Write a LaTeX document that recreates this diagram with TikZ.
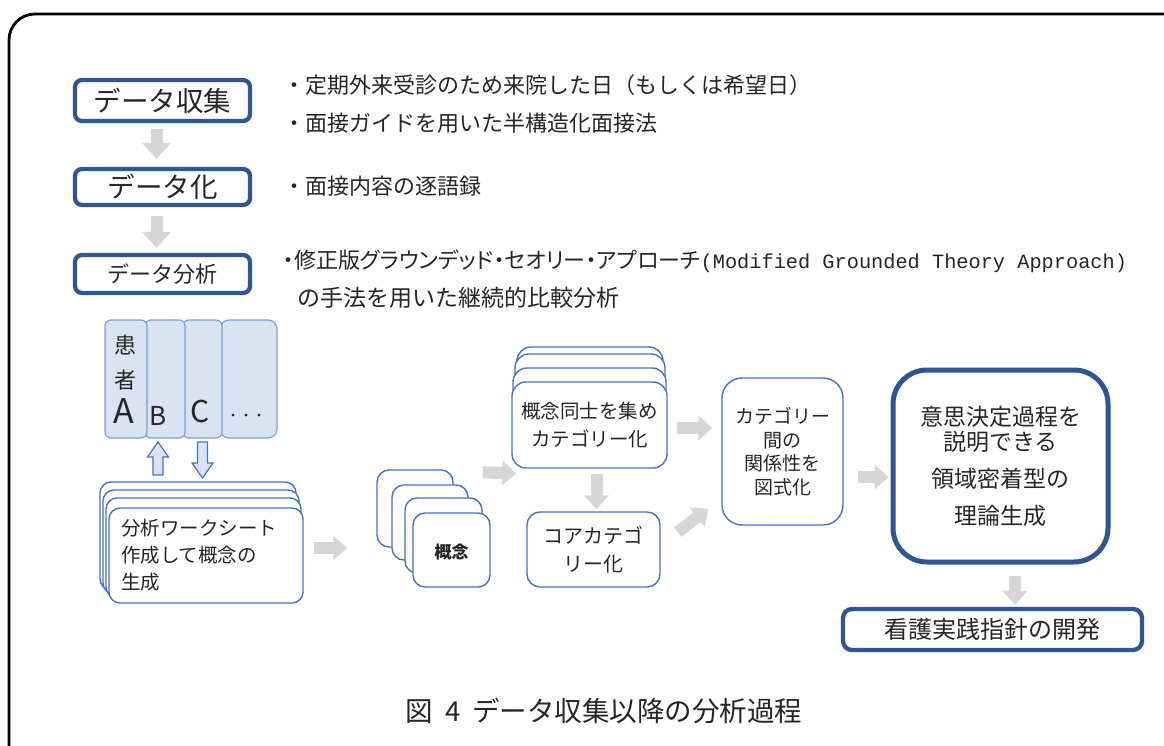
\documentclass[tikz,border=0pt]{standalone}
\usepackage{fontspec}
\setmainfont{Noto Sans CJK JP}
\newfontfamily\monof{Liberation Mono}
\usetikzlibrary{arrows.meta,calc}
\definecolor{dblue}{HTML}{2F5597}
\definecolor{mblue}{HTML}{4472C4}
\definecolor{cardfill}{HTML}{DAE3F3}
\definecolor{cardline}{HTML}{7F9FD5}
\definecolor{garrowc}{HTML}{D6D6D6}
\definecolor{txt}{HTML}{262626}
\newcommand\setfs[2]{\fontsize{#1pt}{#2pt}\selectfont}
\newcommand\boxnode[7]{%
  \pgfmathsetmacro\cx{(#3+#5)/2}\pgfmathsetmacro\cy{(#4+#6)/2}%
  \pgfmathsetmacro\ww{#5-#3}\pgfmathsetmacro\hh{#6-#4}%
  \node[#2, minimum width=\ww pt, minimum height=\hh pt, inner sep=0pt] (#1) at (\cx,\cy) {#7};}
\tikzset{
  every node/.style={text=txt},
  thickbox/.style={draw=dblue, line width=4.3pt, rounded corners=7pt, fill=white},
  thinbox/.style={draw=mblue, line width=1.4pt, fill=white},
  card/.style={draw=cardline, line width=1.2pt, fill=cardfill, rounded corners=6pt},
  garrow/.style={draw=garrowc, line width=12pt, -{Triangle[width=24pt,length=14pt]}},
  bigarrow/.style={draw=garrowc, line width=12pt, -{Triangle[width=28pt,length=16pt]}},
  hollow/.style={draw=mblue, line width=1.2pt, fill=cardfill, line join=miter},
  rtext/.style={anchor=west, inner sep=0pt}
}
\begin{document}
\begin{tikzpicture}[x=1pt,y=-1pt]
\useasboundingbox (0,0) rectangle (1164,746);
\clip (0,0) rectangle (1164,746);
\fill[white] (0,0) rectangle (1164,746);
\draw[line width=2.8pt, rounded corners=26pt] (9,14) rectangle (1192,775);

% left column
\boxnode{collect}{thickbox, font={\setfs{27.5}{30}}}{75}{80}{250}{121}{データ収集}
\boxnode{datafy}{thickbox, font={\setfs{27.5}{30}}}{75}{169}{250}{205}{データ化}
\boxnode{analysis}{thickbox, font={\setfs{22}{26}}}{75}{255}{250}{293}{データ分析}
\draw[bigarrow] ($(collect.south)+(-6,6)$) -- ($(datafy.north)+(-6,-8)$);
\draw[bigarrow] ($(datafy.south)+(-6,9)$) -- ($(analysis.north)+(-6,-5)$);

% right texts
\node[rtext, font={\setfs{22}{26}}] (t1) at (283,85) {・定期外来受診のため来院した日（もしくは希望日）};
\node[rtext, font={\setfs{22}{26}}] (t2) at (283,123) {・面接ガイドを用いた半構造化面接法};
\node[rtext, font={\setfs{22}{26}}] (t3) at (283,186) {・面接内容の逐語録};
\node[rtext, font={\setfs{22}{26}}] (t4) at (283,261) {\addfontfeatures{RawFeature=+palt}・修正版グラウンデッド・セオリー・アプローチ{\monof\setfs{20.3}{24}(Modified Grounded Theory Approach)}};
\node[rtext, font={\setfs{23}{26}}] (t5) at (297,298) {の手法を用いた継続的比較分析};

% patient cards
\boxnode{cardD}{card, rounded corners=9pt}{220}{320}{277}{438}{}
\boxnode{cardC}{card}{183}{320}{222}{438}{}
\boxnode{cardB}{card}{145}{320}{185}{438}{}
\boxnode{cardA}{card}{105}{320}{147}{438}{}
\node[font={\setfs{22}{24}}] (pk1) at (125,345) {患};
\node[font={\setfs{22}{24}}] (pk2) at (125,380) {者};
\node[font={\setfs{34}{36}}] (pA) at (124,411) {A};
\node[font={\setfs{26}{28}}] (pB) at (158,416) {B};
\node[font={\setfs{30}{32}}] (pC) at (200,412) {C};
\node[font={\setfs{13}{14}}] (pD) at (246,417) {・・・};

% hollow arrows
\draw[hollow] (158,442) -- (168.5,457) -- (163,457) -- (163,475) -- (153,475) -- (153,457) -- (147.5,457) -- cycle;
\draw[hollow] (197.5,442) -- (207.5,442) -- (207.5,463) -- (213,463) -- (202.5,478) -- (192,463) -- (197.5,463) -- cycle;

% worksheet stack
\boxnode{ws1}{thinbox, rounded corners=11pt}{100}{482}{296}{590}{}
\boxnode{ws2}{thinbox, rounded corners=11pt}{103}{490}{299}{594}{}
\boxnode{ws3}{thinbox, rounded corners=11pt}{106}{498}{301}{598}{}
\boxnode{ws4}{thinbox, rounded corners=11pt, align=left, text width=170pt, font={\setfs{19.5}{27}}}{109}{508}{303}{603}{分析ワークシート\\作成して概念の\\生成}

% concept stack
\boxnode{c1}{thinbox, rounded corners=12pt}{377}{470}{453}{547}{}
\boxnode{c2}{thinbox, rounded corners=12pt}{392}{485}{468}{560}{}
\boxnode{c3}{thinbox, rounded corners=12pt}{405}{498}{482}{573}{}
\boxnode{c4}{thinbox, rounded corners=12pt}{413}{513}{490}{587}{}
\node[font={\setfs{17}{20}\bfseries}] (c4t) at ($(c4.center)+(0,2)$) {概念};

% category stack
\boxnode{k1}{thinbox, rounded corners=14pt}{517}{347}{663}{457}{}
\boxnode{k2}{thinbox, rounded corners=14pt}{515}{354}{665}{461}{}
\boxnode{k3}{thinbox, rounded corners=14pt}{513}{368}{666}{464}{}
\boxnode{k4}{thinbox, rounded corners=14pt, align=center, font={\setfs{19.5}{28}}}{512}{382}{667}{468}{概念同士を集め\\カテゴリー化}

% core category
\boxnode{core}{thinbox, rounded corners=13pt, align=center, font={\setfs{20}{28}}}{527}{512}{660}{587}{コアカテゴ\\リー化}

% relation
\boxnode{rel}{thinbox, rounded corners=20pt, align=center, font={\setfs{19}{23.5}}}{722}{378}{843}{525}{カテゴリー\\間の\\関係性を\\図式化}

% theory
\boxnode{theory}{thickbox, line width=5pt, rounded corners=34pt, align=center, font={\setfs{23}{25}}}{893}{370}{1108}{562}{意思決定過程を\\説明できる\\[12pt]領域密着型の\\[12pt]理論生成}

% final
\boxnode{final}{thickbox, rounded corners=9pt, font={\setfs{24}{28}}}{843}{609}{1142}{650}{看護実践指針の開発}

% gray arrows
\draw[garrow] ($(ws4.east|-c4.west)+(10,-2)$) -- ($(c4.west)+(-65,-2)$);
\draw[garrow] ($(c1.north east)+(29,3)$) -- ($(k4.south west)+(5,5)$);
\draw[garrow] ($(k4.south-|core.north)+(3,5)$) -- ($(core.north)+(3,-2)$);
\draw[garrow] ($(k4.east)+(9,3)$) -- ($(rel.west|-k4.east)+(-9,3)$);
\draw[garrow] ($(core.east)+(17,-17.5)$) -- ($(rel.south west)+(-13,-17)$);
\draw[garrow] ($(rel.east|-theory.west)+(14,11)$) -- ($(theory.west)+(-2,11)$);
\draw[garrow] ($(theory.south)+(14.5,11)$) -- ($(theory.south|-final.north)+(14.5,-2)$);

% caption
\node[font={\setfs{27.5}{30}}] (cap) at (604,711) {図\hspace{12pt}4\hspace{12pt}データ収集以降の分析過程};
\end{tikzpicture}
\end{document}
